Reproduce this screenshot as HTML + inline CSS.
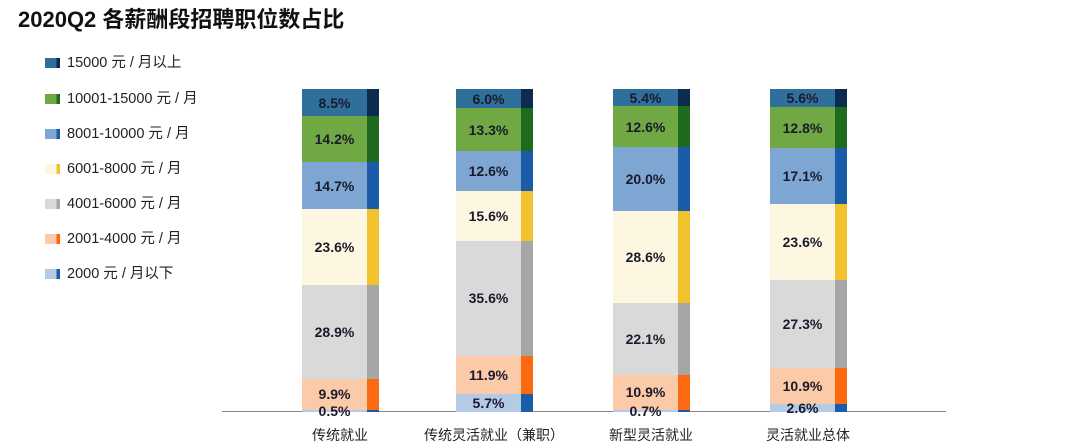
<!DOCTYPE html><html><head><meta charset="utf-8"><style>
body{margin:0;width:1080px;height:448px;background:#fff;position:relative;overflow:hidden;font-family:"Liberation Sans","Noto Sans CJK SC",sans-serif;}
.a{position:absolute}
.t{left:18px;top:2px;font-size:22px;font-weight:bold;color:#111;}
.lg{font-size:14.5px;color:#222;left:67px;line-height:16px}
.sq{width:15px;height:10px}
.lb{font-size:14px;font-weight:bold;color:#1a1a2a;text-align:center;line-height:14px}
.cat{font-size:14px;color:#222;top:425px;text-align:center;width:200px}
</style></head><body>
<div class="a t">2020Q2 各薪酬段招聘职位数占比</div>
<div class="a" style="left:222px;top:411px;width:724px;height:1px;background:#888"></div>
<div id="c"></div>
<script>
var cols=[["#2e6f9b","#0d2a4f"],["#70a844","#1e6b1e"],["#7ea6d2","#1a5ca8"],["#fdf7e1","#f2c12e"],["#d9d9d9","#a6a6a6"],["#fbcaa8","#fb6a10"],["#b4cbe6","#1a5ca8"]];
var names=["15000 元 / 月以上","10001-15000 元 / 月","8001-10000 元 / 月","6001-8000 元 / 月","4001-6000 元 / 月","2001-4000 元 / 月","2000 元 / 月以下"];
var ly=[63,99,134,169,204,239,274];
var h="";
for(var i=0;i<7;i++){h+='<div class="a sq" style="left:45px;top:'+(ly[i]-5)+'px;background:linear-gradient(90deg,'+cols[i][0]+' 75%,'+cols[i][1]+' 75%)"></div><div class="a lg" style="top:'+(ly[i]-8)+'px">'+names[i]+'</div>';}
var bars=[[302,[8.5,14.2,14.7,23.6,28.9,9.9,0.5],"传统就业"],[456,[6.0,13.3,12.6,15.6,35.6,11.9,5.7],"传统灵活就业（兼职）"],[613,[5.4,12.6,20.0,28.6,22.1,10.9,0.7],"新型灵活就业"],[770,[5.6,12.8,17.1,23.6,27.3,10.9,2.6],"灵活就业总体"]];
bars.forEach(function(b){var x=b[0],v=b[1],s=v.reduce(function(a,c){return a+c},0);var top=89,H=323,y=top;
for(var i=0;i<7;i++){var hh=v[i]/s*H;
h+='<div class="a" style="left:'+x+'px;top:'+y+'px;width:65px;height:'+(hh+0.5)+'px;background:'+cols[i][0]+'"></div>';
h+='<div class="a" style="left:'+(x+65)+'px;top:'+y+'px;width:12px;height:'+(hh+0.5)+'px;background:'+cols[i][1]+'"></div>';
var cy=y+hh/2;if(hh<14)cy=Math.max(y+hh/2,404);
h+='<div class="a lb" style="left:'+x+'px;width:65px;top:'+(cy-7)+'px">'+v[i].toFixed(1)+'%</div>';
y+=hh;}
h+='<div class="a cat" style="left:'+(x+38-100)+'px">'+b[2]+'</div>';});
document.getElementById("c").innerHTML=h;
</script>
</body></html>
